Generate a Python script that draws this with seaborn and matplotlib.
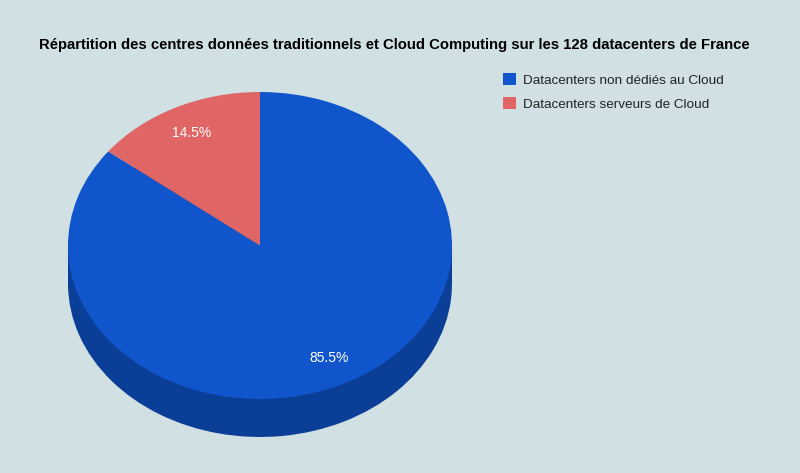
import matplotlib
matplotlib.use("Agg")
import matplotlib.pyplot as plt
import seaborn as sns
from matplotlib.patches import Rectangle

categories = ["Datacenters non dédiés au Cloud", "Datacenters serveurs de Cloud"]
values = [85.5, 14.5]
title = "Répartition des centres données traditionnels et Cloud Computing sur les 128 datacenters de France"

top_colors = ["#1155cc", "#e06666"]
side_colors = ["#0b3e96", "#a84c4c"]
bg = "#d0e0e3"

sns.set_theme(style="white")
plt.rcParams['font.family'] = ['Liberation Sans', 'DejaVu Sans']

W, H = 800, 473
fig = plt.figure(figsize=(W / 100, H / 100), dpi=100, facecolor=bg)

# pie geometry in pixels
cx_l, cx_r = 68, 452
top_y, face_bot = 92, 399
depth_px = 38
ry = (face_bot - top_y) / 2
d = depth_px / ry

ax = fig.add_axes([cx_l / W, (H - face_bot - depth_px) / H,
                   (cx_r - cx_l) / W, (face_bot - top_y + depth_px) / H])
ax.set_facecolor(bg)

# side (bottom face + walls)
ax.pie(values, colors=side_colors, startangle=90, counterclock=False,
       center=(0, -d), radius=1, wedgeprops=dict(linewidth=0))
ax.add_patch(Rectangle((-1, -d), 2, d, facecolor=side_colors[0], edgecolor="none"))
# top face
wedges, texts, autotexts = ax.pie(values, colors=top_colors, startangle=90, counterclock=False,
                                  autopct='%1.1f%%', pctdistance=0.815,
                                  wedgeprops=dict(linewidth=0),
                                  textprops=dict(color="white", fontsize=10))
ax.set_aspect('auto')
ax.set_xlim(-1, 1)
ax.set_ylim(-1 - d, 1)
ax.axis('off')

fig.text(394 / W, 1 - 45 / H, title, ha='center', va='center',
         fontsize=10.7, fontweight='bold', color='black')

fig.legend(wedges, categories, loc='upper left', bbox_to_anchor=(491 / W, 1 - 61 / H),
           frameon=False, fontsize=9.7, handlelength=0.95, handleheight=0.95,
           handletextpad=0.55, labelspacing=0.78, labelcolor='#222222')

fig.savefig("out.png", dpi=100, facecolor=bg)
